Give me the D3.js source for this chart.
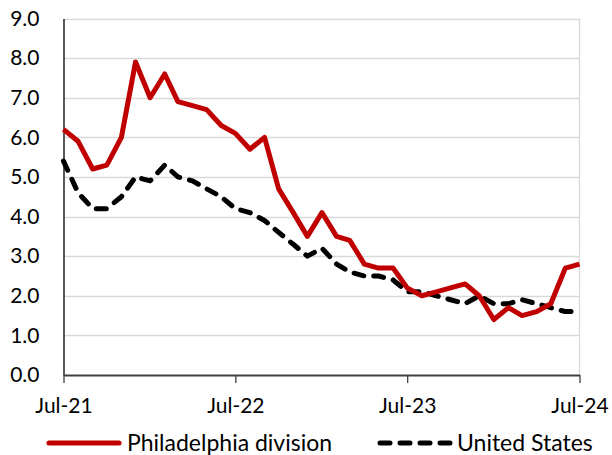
<!DOCTYPE html>
<html>
<head>
<meta charset="utf-8">
<script src="https://cdn.jsdelivr.net/npm/d3@7"></script>
<style>
  body { margin: 0; background: #fff; }
  svg { display: block; font-family: Lato, "Open Sans", sans-serif; }
</style>
</head>
<body>
<svg width="612" height="455"></svg>
<script>
(function (d3) {
  'use strict';

  var svg = d3.select('svg');

  // monthly, Jul-21 .. Jul-24
  var startMonth = new Date(2021, 6, 1);
  var philly = [6.2,5.9,5.2,5.3,6.0,7.9,7.0,7.6,6.9,6.8,6.7,6.3,
                6.1,5.7,6.0,4.7,4.1,3.5,4.1,3.5,3.4,2.8,2.7,2.7,
                2.2,2.0,2.1,2.2,2.3,2.0,1.4,1.7,1.5,1.6,1.8,2.7,2.8];
  var us = [5.4,4.6,4.2,4.2,4.5,5.0,4.9,5.3,5.0,4.9,4.7,4.5,
            4.2,4.1,3.9,3.6,3.3,3.0,3.2,2.8,2.6,2.5,2.5,2.4,
            2.1,2.1,2.0,1.9,1.8,2.0,1.8,1.8,1.9,1.8,1.7,1.6,1.6];
  var yTicks = [0,1,2,3,4,5,6,7,8,9];
  var xTicks = [new Date(2021,6,1), new Date(2022,6,1), new Date(2023,6,1), new Date(2024,6,1)];
  var seriesNames = ['Philadelphia division', 'United States'];

  var plotLeft = 63.5, plotRight = 579.5, plotTop = 18.5, plotBottom = 375;

  var months = philly.map(function(d,i){ return d3.timeMonth.offset(startMonth, i); });

  var x = d3.scaleTime().domain([xTicks[0], xTicks[3]]).range([plotLeft, plotRight]);
  var y = d3.scaleLinear().domain([0,9]).range([plotBottom, plotTop]);

  // gridlines
  svg.append('g').selectAll('line')
      .data(yTicks.filter(function(d){ return d > 0; }))
      .enter().append('line')
      .attr('x1', plotLeft).attr('x2', plotRight)
      .attr('y1', function(d){ return Math.round(y(d)) + 0.5; })
      .attr('y2', function(d){ return Math.round(y(d)) + 0.5; })
      .attr('stroke', '#d9d9d9').attr('stroke-width', 1.3);

  // right border
  svg.append('line')
      .attr('x1', plotRight).attr('x2', plotRight)
      .attr('y1', plotTop).attr('y2', plotBottom)
      .attr('stroke', '#d9d9d9').attr('stroke-width', 1.3);

  // y axis
  var yAxis = svg.append('g')
      .attr('transform', 'translate(' + plotLeft + ',0)')
      .call(d3.axisLeft(y).tickValues(yTicks).tickSize(0).tickPadding(24)
            .tickFormat(d3.format('.1f')));
  yAxis.select('.domain').attr('stroke', '#000').attr('stroke-width', 1.3);
  yAxis.selectAll('text').attr('font-size', 21).attr('fill', '#000')
      .attr('font-family', 'Lato, sans-serif');

  // x axis
  var xAxis = svg.append('g')
      .attr('transform', 'translate(0,' + plotBottom + ')')
      .call(d3.axisBottom(x).tickValues(xTicks).tickSize(8).tickSizeOuter(0).tickPadding(15)
            .tickFormat(d3.timeFormat('%b-%y')));
  xAxis.select('.domain').attr('stroke', '#404040').attr('stroke-width', 2);
  xAxis.selectAll('.tick line').attr('stroke', '#404040').attr('stroke-width', 1.3);
  xAxis.selectAll('text').attr('font-size', 21).attr('fill', '#000')
      .attr('font-family', 'Lato, sans-serif');

  var line = d3.line()
      .x(function(d,i){ return x(months[i]); })
      .y(function(d){ return y(d); });

  svg.append('path').datum(us)
      .attr('d', line)
      .attr('fill', 'none').attr('stroke', '#000')
      .attr('stroke-width', 5).attr('stroke-dasharray', '10,10')
      .attr('stroke-linecap', 'round').attr('stroke-linejoin', 'round');

  svg.append('path').datum(philly)
      .attr('d', line)
      .attr('fill', 'none').attr('stroke', '#c00000')
      .attr('stroke-width', 5).attr('stroke-linejoin', 'round');

  // legend
  var legend = svg.append('g').attr('font-size', 23);
  legend.append('line')
      .attr('x1', 49).attr('x2', 119).attr('y1', 443).attr('y2', 443)
      .attr('stroke', '#c00000').attr('stroke-width', 5).attr('stroke-linecap', 'round');
  legend.append('text').attr('x', 127).attr('y', 451).text(seriesNames[0]);
  legend.append('line')
      .attr('x1', 380).attr('x2', 452).attr('y1', 443).attr('y2', 443)
      .attr('stroke', '#000').attr('stroke-width', 5).attr('stroke-dasharray', '10,10')
      .attr('stroke-linecap', 'round');
  legend.append('text').attr('x', 457).attr('y', 451).text(seriesNames[1]);

}(d3));
</script>
</body>
</html>
